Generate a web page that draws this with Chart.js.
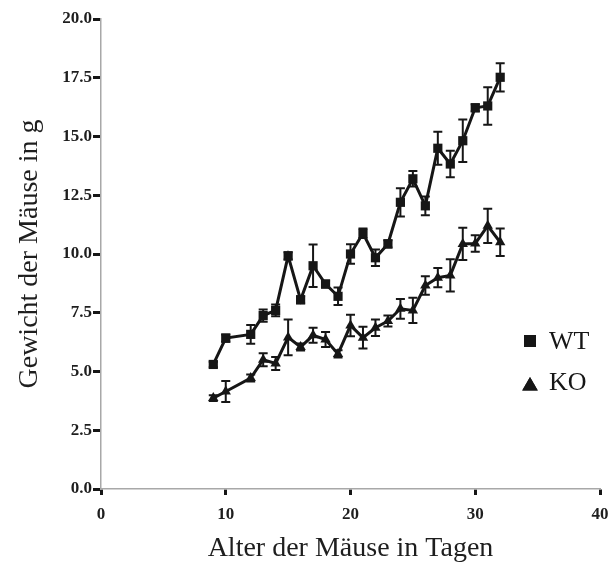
<!DOCTYPE html>
<html><head><meta charset="utf-8">
<script src="https://cdn.jsdelivr.net/npm/chart.js@4"></script>
<style>html,body{margin:0;padding:0;background:#fff}#wrap{width:612px;height:565px;position:relative}canvas{display:block}</style>
</head><body><div id="wrap"><canvas id="c" width="612" height="565"></canvas></div>
<script>
const days   = [9,10,12,13,14,15,16,17,18,19,20,21,22,23,24,25,26,27,28,29,30,31,32];
const wtMean = [5.3,6.42,6.58,7.38,7.6,9.92,8.05,9.5,8.72,8.2,10.0,10.88,9.84,10.43,12.2,13.2,12.05,14.5,13.83,14.82,16.22,16.3,17.52];
const wtErr  = [0.12,0.15,0.4,0.26,0.25,0.15,0.15,0.9,0.15,0.37,0.42,0.2,0.35,0.15,0.6,0.33,0.4,0.7,0.56,0.9,0.15,0.8,0.6];
const koMean = [3.87,4.15,4.72,5.5,5.34,6.45,6.04,6.54,6.36,5.75,6.96,6.44,6.86,7.15,7.67,7.6,8.66,8.99,9.09,10.43,10.45,11.2,10.5];
const koErr  = [0.12,0.45,0.15,0.28,0.28,0.76,0.15,0.32,0.32,0.15,0.46,0.46,0.35,0.23,0.42,0.54,0.39,0.41,0.69,0.69,0.35,0.73,0.58];
const seriesNames = ['WT','KO'];
const xTicks = [0,10,20,30,40];
const yTicks = [0,2.5,5,7.5,10,12.5,15,17.5,20];

const INK = '#161616';
const SERIF = '"Liberation Serif", "Times New Roman", serif';

const toPts = (xs, ys) => xs.map((x, i) => ({x: x, y: ys[i]}));

const errorBars = {
  id: 'errorBars',
  beforeDatasetsDraw(chart) {
    const ctx = chart.ctx, xs = chart.scales.x, ys = chart.scales.y;
    chart.data.datasets.forEach(ds => {
      ctx.save();
      ctx.strokeStyle = INK; ctx.lineWidth = 2;
      ds.data.forEach((p, i) => {
        const e = ds.errors[i];
        const px = xs.getPixelForValue(p.x);
        const t = ys.getPixelForValue(p.y + e), b = ys.getPixelForValue(p.y - e);
        ctx.beginPath();
        ctx.moveTo(px, t); ctx.lineTo(px, b);
        ctx.moveTo(px - 4.5, t); ctx.lineTo(px + 4.5, t);
        ctx.moveTo(px - 4.5, b); ctx.lineTo(px + 4.5, b);
        ctx.stroke();
      });
      ctx.restore();
    });
  }
};

const legendPlugin = {
  id: 'customLegend',
  afterDraw(chart) {
    const ctx = chart.ctx, ca = chart.chartArea;
    const mx = ca.right - 70, tx = ca.right - 51;
    const rows = [{y: 341, ty: 342, style: 'rect', r: 8.5}, {y: 386, ty: 383, style: 'triangle', r: 9}];
    ctx.save();
    rows.forEach((row, i) => {
      Chart.helpers.drawPoint(ctx, {pointStyle: row.style, radius: row.r, borderWidth: 0}, mx, row.y);
      ctx.fillStyle = INK;
      ctx.fill();
      ctx.font = '26px ' + SERIF;
      ctx.textBaseline = 'middle';
      ctx.textAlign = 'left';
      ctx.fillText(seriesNames[i], tx, row.ty);
    });
    ctx.restore();
  }
};

new Chart(document.getElementById('c'), {
  type: 'line',
  data: {
    datasets: [
      {label: seriesNames[0], data: toPts(days, wtMean), errors: wtErr, borderColor: INK, backgroundColor: INK,
       borderWidth: 3, pointStyle: 'rect', pointRadius: 6.5, pointBorderWidth: 0, tension: 0},
      {label: seriesNames[1], data: toPts(days, koMean), errors: koErr, borderColor: INK, backgroundColor: INK,
       borderWidth: 3, pointStyle: 'triangle', pointRadius: 6, pointBorderWidth: 0, tension: 0}
    ]
  },
  options: {
    responsive: false,
    animation: false,
    devicePixelRatio: 1,
    layout: {padding: {top: 19, right: 12, left: 0, bottom: 0}},
    plugins: {legend: {display: false}, tooltip: {enabled: false}},
    scales: {
      x: {
        type: 'linear', min: 0, max: 40,
        afterBuildTicks: s => { s.ticks = xTicks.map(v => ({value: v})); },
        afterFit: s => { s.height = 76; s.paddingLeft = 0; s.paddingRight = 0; },
        border: {color: '#a8a8a8', width: 1.5},
        grid: {drawOnChartArea: false, drawTicks: true, tickLength: 6, tickWidth: 3, tickColor: INK},
        ticks: {color: '#1e1e1e', padding: 9, maxRotation: 0, font: {family: SERIF, size: 17, weight: 'bold'},
                callback: v => String(v)},
        title: {display: true, text: 'Alter der Mäuse in Tagen', color: '#1e1e1e',
                font: {family: SERIF, size: 28}, padding: {top: 0, bottom: 0}}
      },
      y: {
        type: 'linear', min: 0, max: 20,
        afterBuildTicks: s => { s.ticks = yTicks.map(v => ({value: v})); },
        afterFit: s => { s.width = 101; s.paddingTop = 0; s.paddingBottom = 0; },
        border: {color: '#a8a8a8', width: 1.5},
        grid: {drawOnChartArea: false, drawTicks: true, tickLength: 8, tickWidth: 3, tickColor: INK},
        ticks: {color: '#1e1e1e', padding: 1, font: {family: SERIF, size: 17, weight: 'bold'},
                callback: v => v.toFixed(1)},
        title: {display: true, text: 'Gewicht der Mäuse in g', color: '#1e1e1e',
                font: {family: SERIF, size: 28}, padding: {top: 13, bottom: 0}}
      }
    }
  },
  plugins: [errorBars, legendPlugin]
});
</script>
</body></html>
